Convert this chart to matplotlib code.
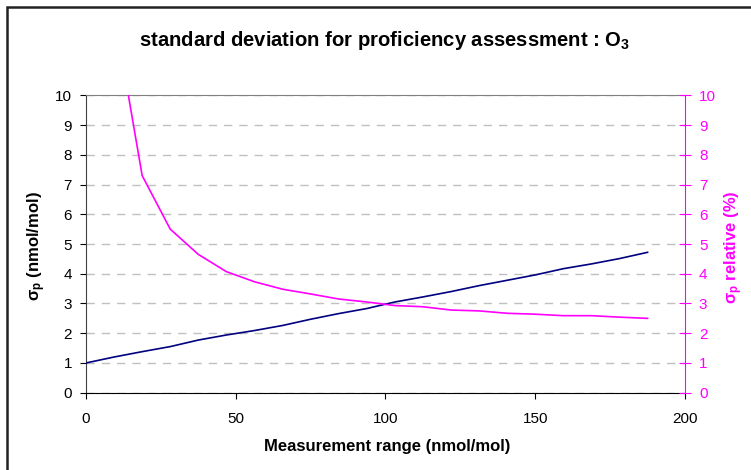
import matplotlib
matplotlib.use("Agg")
from matplotlib import pyplot as plt
from matplotlib.patches import Rectangle
import numpy as np

plt.rcParams['font.family'] = ['Liberation Sans', 'DejaVu Sans']
plt.rcParams['mathtext.default'] = 'regular'

# measurement range (nmol/mol)
conc = [0, 9.375, 18.75, 28.125, 37.5, 46.875, 56.25, 65.625, 75, 84.375, 93.75,
        103.125, 112.5, 121.875, 131.25, 140.625, 150, 159.375, 168.75, 178.125, 187.5]
# sigma_p (nmol/mol)
sigma_abs = [1.00, 1.20, 1.38, 1.55, 1.77, 1.94, 2.09, 2.26, 2.47, 2.66, 2.83,
             3.05, 3.22, 3.40, 3.60, 3.78, 3.96, 4.17, 4.33, 4.51, 4.72]
# sigma_p relative (%), no value at 0
conc_rel = conc[1:]
sigma_rel = [12.8, 7.30, 5.50, 4.65, 4.07, 3.73, 3.48, 3.32, 3.15, 3.05,
             2.93, 2.89, 2.78, 2.75, 2.67, 2.64, 2.59, 2.59, 2.54, 2.50]

navy = '#000080'
pink = '#FF00FF'

W, H = 751, 470
fig = plt.figure(figsize=(W/100, H/100), dpi=100)
ax = fig.add_axes([86/W, 1-392.7/H, (685-86)/W, (392.7-95.3)/H])

# outer frame of the chart object
fig.patches.append(Rectangle((7/W, -0.1), 1.2, 1-7/H+0.1, transform=fig.transFigure,
                             fill=False, edgecolor='#222222', linewidth=1.8))

ax.plot(conc, sigma_abs, color=navy, linewidth=1.2, zorder=3)
ax.set_xlim(0, 200)
ax.set_ylim(0, 10)
ax.set_xticks(np.arange(0, 201, 50))
ax.set_yticks(np.arange(0, 11, 1))
ax.yaxis.grid(True, color='#c0c0c0', linestyle=(0, (6, 5)), linewidth=1)
ax.set_axisbelow(True)
ax.tick_params(axis='both', direction='out', length=4, labelsize=11, colors='#000000')
ax.tick_params(axis='x', pad=10)
ax.tick_params(axis='y', pad=6)
ax.spines['left'].set_color('#404040')
ax.spines['bottom'].set_color('#000000')
ax.spines['top'].set_color('#808080')
ax.spines['right'].set_visible(False)

ax2 = ax.twinx()
ax2.plot(conc_rel, sigma_rel, color=pink, linewidth=1.2, zorder=3)
ax2.set_ylim(0, 10)
ax2.set_yticks(np.arange(0, 11, 1))
ax2.tick_params(axis='y', direction='inout', length=8, labelsize=11, colors=pink, pad=6)
ax2.spines['right'].set_color(pink)
for s in ['left', 'top', 'bottom']:
    ax2.spines[s].set_visible(False)

fig.text(385/W, 1-41/H, 'standard deviation for proficiency assessment : O$_3$',
         ha='center', va='center', fontsize=14.6, fontweight='bold')
fig.text(387/W, 1-447/H, 'Measurement range (nmol/mol)',
         ha='center', va='center', fontsize=12, fontweight='bold')
fig.text(37/W, 1-246/H, 'σ$_p$ (nmol/mol)', rotation=90,
         ha='center', va='center', fontsize=12, fontweight='bold')
fig.text(734/W, 1-247/H, 'σ$_p$ relative (%)', rotation=90, color=pink,
         ha='center', va='center', fontsize=12, fontweight='bold')

fig.savefig('out.png', dpi=100)
